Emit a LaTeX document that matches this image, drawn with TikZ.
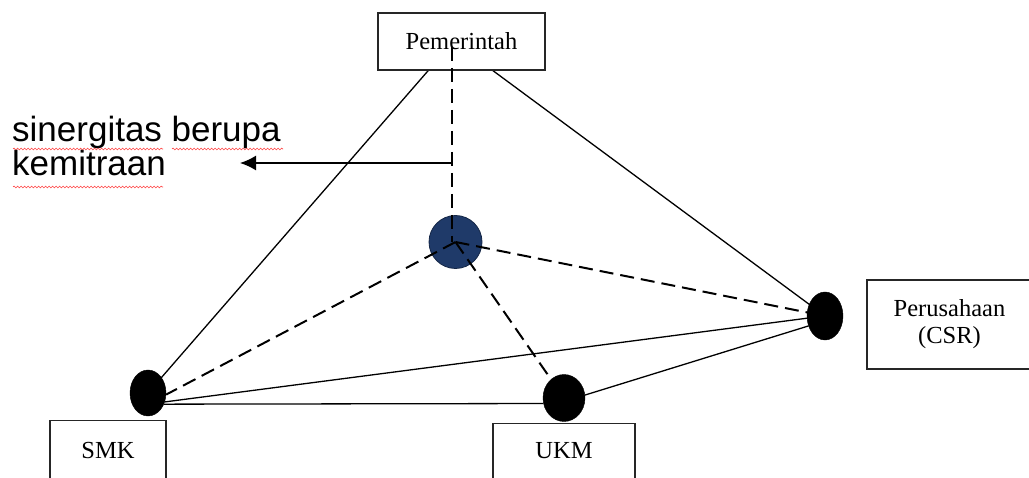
\documentclass[tikz,border=0pt]{standalone}
\usepackage{fontspec}
\setmainfont{Liberation Serif}
\newfontfamily\arialfont{Liberation Sans}
\usetikzlibrary{arrows.meta,backgrounds,decorations.pathmorphing,shapes.geometric}
\definecolor{hubblue}{RGB}{31,58,105}
\definecolor{hubedge}{RGB}{20,38,70}
\tikzset{
  labelbox/.style={draw=black!85, line width=1.3pt, fill=white, inner sep=0pt, font=\fontsize{24.5}{27}\selectfont, align=center},
  dot/.style={ellipse, fill=black, draw=black, inner sep=0pt},
  solidlink/.style={line width=1.3pt, black},
  dashlink/.style={line width=2pt, black, dash pattern=on 14pt off 7pt},
  squiggle/.style={red!75, line width=0.6pt, decorate, decoration={snake, amplitude=0.9pt, segment length=3.5pt}},
  bigtext/.style={anchor=base west, inner sep=0pt, font=\arialfont\fontsize{35}{36}\selectfont}
}
\begin{document}
\begin{tikzpicture}[x=1pt,y=-1pt]
\useasboundingbox (0,0) rectangle (1029,478);
\clip (0,0) rectangle (1029,478);
% boxes
\node[labelbox, minimum width=167pt, minimum height=57pt] (pem) at (461.5,41.5) {Pemerintah};
\node[labelbox, minimum width=165pt, minimum height=89pt] (per) at (949.5,324.5) {Perusahaan\\(CSR)};
\node[labelbox, anchor=north, minimum width=116pt, inner ysep=22pt, text depth=45pt] (smk) at (108,420) {SMK};
\node[labelbox, anchor=north, minimum width=142pt, inner ysep=19pt, text depth=45pt] (ukm) at (564,423) {UKM};
% dots
\node[dot, minimum width=36pt, minimum height=46pt] (smkdot) at (148,393) {};
\node[dot, minimum width=42pt, minimum height=47pt] (ukmdot) at (564,398) {};
\node[dot, minimum width=36pt, minimum height=48pt] (perdot) at (825,316) {};
\node[circle, fill=hubblue, draw=hubedge, line width=0.8pt, minimum size=53pt, inner sep=0pt] (hub) at (455.5,242) {};
% solid links behind
\begin{pgfonlayer}{background}
\draw[solidlink] ([xshift=-8pt]pem.center) -- (smkdot.center);
\draw[solidlink] ([xshift=-8pt]pem.center) -- (perdot.center);
\draw[solidlink] (smkdot.-28) -- (perdot.187);
\draw[solidlink] (smkdot.-35) -- (ukmdot.195);
\draw[solidlink] (ukmdot.8) -- (perdot.211);
\end{pgfonlayer}
% dashed links on top
\coordinate (pemfoot) at ([xshift=-9.5pt,yshift=-5.5pt]pem.center);
\draw[dashlink] (pemfoot) -- (pemfoot |- hub.center);
\draw[dashlink] (hub.center) -- (perdot.center);
\draw[dashlink] (hub.center) -- (smkdot.-5);
\draw[dashlink] (hub.center) -- (ukmdot.center);
% arrow
\coordinate (j) at (452,163);
\coordinate (tip) at (240,163);
\draw[line width=1.5pt, -{Latex[length=16pt,width=15pt]}] (j) -- (tip);
% label
\node[bigtext] (t1) at (12,142) {sinergitas berupa};
\node[bigtext] (t2) at (12,176) {kemitraan};
\draw[squiggle] (13,149) -- (163,149);
\draw[squiggle] (172,149) -- (283,149);
\draw[squiggle] (13,187) -- (163,187);
\end{tikzpicture}
\end{document}
